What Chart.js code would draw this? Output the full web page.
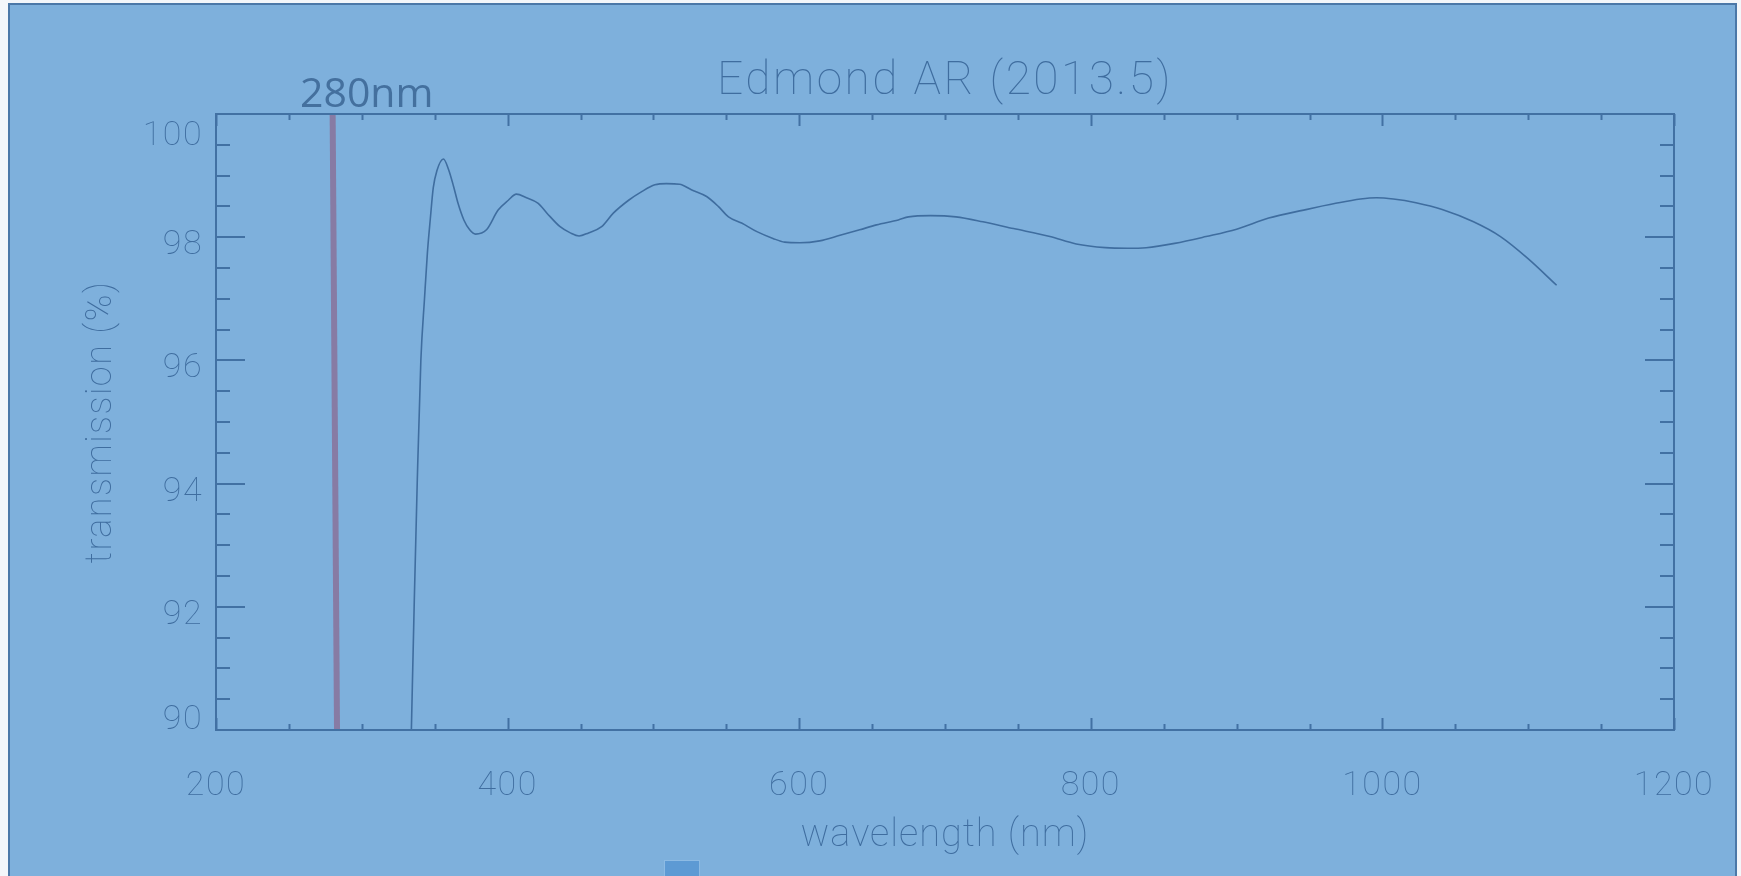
<!DOCTYPE html>
<html>
<head>
<meta charset="utf-8">
<title>Edmond AR (2013.5)</title>
<script src="https://cdn.jsdelivr.net/npm/chart.js@4.4.1/dist/chart.umd.min.js"></script>
<style>
  html, body { margin: 0; padding: 0; background: #f3f6fa; overflow: hidden; }
  #wrap { position: absolute; left: 0; top: 0; width: 1741px; height: 876px; }
</style>
</head>
<body>
<div id="wrap"><canvas id="c"></canvas></div>
<script>
// Measured transmission of the AR-coated window (wavelength in nm, transmission in %)
const wavelength = [
  334, 336, 338, 340.5, 343, 345, 347, 349, 351.5, 356,
  359.5, 363, 366, 370, 374, 378, 385.5, 393.5, 400.5, 406,
  413, 421, 427, 436, 443, 449, 455.5, 464.5, 472.5, 483,
  492, 501, 509, 518, 526, 536.5, 544.5, 551.5, 560.5, 571,
  582, 590, 600.5, 614, 628, 641.5, 653, 668, 675, 690,
  707.5, 726, 747, 772, 790, 810, 825, 838, 857.5, 879,
  900, 922, 946, 968, 985, 996, 1007.5, 1023, 1041, 1062.5,
  1081, 1099.5, 1119.5
];
const transmission = [
  90.0, 92.1, 94.0, 96.0, 97.0, 97.75, 98.3, 98.8, 99.08, 99.27,
  99.1, 98.82, 98.55, 98.28, 98.12, 98.05, 98.12, 98.44, 98.6, 98.7,
  98.64, 98.55, 98.39, 98.17, 98.07, 98.02, 98.07, 98.17, 98.39, 98.6,
  98.74, 98.85, 98.87, 98.86, 98.77, 98.66, 98.5, 98.33, 98.23, 98.09,
  97.98, 97.92, 97.91, 97.94, 98.03, 98.12, 98.2, 98.28, 98.33, 98.35,
  98.33, 98.25, 98.14, 98.01, 97.89, 97.83, 97.82, 97.83, 97.9, 98.01,
  98.13, 98.31, 98.44, 98.55, 98.62, 98.64, 98.62, 98.56, 98.45, 98.25,
  98.01, 97.66, 97.22
];

// 280 nm reference marker (top and bottom end of the drawn line)
const markerWavelength = [280, 283];
const markerTransmission = [100, 90];
const markerLabel = '280nm';

// Axes
const xRange = [200, 1200];
const yRange = [90, 100];
const xMajorTicks = [200, 400, 600, 800, 1000, 1200];
const xTickLabels = ['200', '400', '600', '800', '1000', '1200'];
const xMinorStep = 50;
const yMajorTicks = [90, 92, 94, 96, 98, 100];
const yTickLabels = ['90', '92', '94', '96', '98', '100'];
const yMinorStep = 0.5;

const chartTitle = 'Edmond AR (2013.5)';
const xAxisTitle = 'wavelength (nm)';
const yAxisTitle = 'transmission (%)';

const INK = '#4271a3';
const TEXT = '#3f6d9f';
const THIN = '100';

const spectrum = wavelength.map((w, i) => ({ x: w, y: transmission[i] }));
const marker = markerWavelength.map((w, i) => ({ x: w, y: markerTransmission[i] }));

function drawText(ctx, s, x, y, font, align, spacing, color) {
  ctx.font = font;
  ctx.textAlign = align;
  ctx.textBaseline = 'alphabetic';
  ctx.fillStyle = color;
  if ('letterSpacing' in ctx) ctx.letterSpacing = spacing + 'px';
  ctx.fillText(s, x, y);
  if ('letterSpacing' in ctx) ctx.letterSpacing = '0px';
}

// Page panel behind the plot
const panelPlugin = {
  id: 'panel',
  beforeDraw(chart) {
    const ctx = chart.ctx, W = chart.width, H = chart.height;
    ctx.save();
    ctx.fillStyle = '#f3f6fa';
    ctx.fillRect(0, 0, W, H);
    ctx.fillStyle = '#7eb0dc';
    ctx.fillRect(9, 4, 1727, H);
    ctx.strokeStyle = '#4b78a8';
    ctx.lineWidth = 2;
    ctx.beginPath();
    ctx.moveTo(9, H + 4); ctx.lineTo(9, 4); ctx.lineTo(1736, 4); ctx.lineTo(1736, H + 4);
    ctx.stroke();
    ctx.fillStyle = '#5d9ad4';
    ctx.fillRect(664, 860, 36, 20);
    ctx.strokeStyle = '#8dbbe4';
    ctx.lineWidth = 1;
    ctx.strokeRect(664.5, 860.5, 35, 20);
    ctx.restore();
  }
};

// Box frame with inward ticks on all four sides
const boxAxesPlugin = {
  id: 'boxAxes',
  afterDatasetsDraw(chart) {
    const ctx = chart.ctx, a = chart.chartArea;
    const xs = chart.scales.x, ys = chart.scales.y;
    ctx.save();
    ctx.strokeStyle = INK;
    ctx.lineWidth = 2;
    ctx.strokeRect(a.left, a.top, a.right - a.left, a.bottom - a.top);
    ctx.beginPath();
    // x ticks (bottom and top)
    for (let v = xRange[0]; v <= xRange[1] + 1e-9; v += xMinorStep) {
      const px = Math.round(xs.getPixelForValue(v)) + 0.5;
      const len = xMajorTicks.includes(v) ? 12 : 6;
      ctx.moveTo(px, a.bottom); ctx.lineTo(px, a.bottom - len);
      ctx.moveTo(px, a.top); ctx.lineTo(px, a.top + len);
    }
    ctx.stroke();
    ctx.beginPath();
    // y ticks (left and right)
    for (let v = yRange[0]; v <= yRange[1] + 1e-9; v += yMinorStep) {
      const py = Math.round(ys.getPixelForValue(v));
      const major = yMajorTicks.some(t => Math.abs(t - v) < 1e-6);
      const len = major ? 29 : 14;
      ctx.moveTo(a.left, py); ctx.lineTo(a.left + len, py);
      ctx.moveTo(a.right, py); ctx.lineTo(a.right - len, py);
    }
    ctx.stroke();
    ctx.restore();
  },
  afterDraw(chart) {
    const ctx = chart.ctx, a = chart.chartArea;
    const xs = chart.scales.x, ys = chart.scales.y;
    const cx = (a.left + a.right) / 2;
    ctx.save();
    drawText(ctx, chartTitle, cx, 94, THIN + ' 46px Roboto', 'center', 2.5, TEXT);
    xMajorTicks.forEach((v, i) => {
      drawText(ctx, xTickLabels[i], xs.getPixelForValue(v), 795, THIN + ' 34px Roboto', 'center', 1.5, TEXT);
    });
    drawText(ctx, xAxisTitle, cx, 846, THIN + ' 38px Roboto', 'center', 1, TEXT);
    yMajorTicks.forEach((v, i) => {
      const py = ys.getPixelForValue(v);
      let shift = 17;
      if (v === yRange[1]) shift = 31;
      if (v === yRange[0]) shift = -1;
      drawText(ctx, yTickLabels[i], a.left - 13, py + shift, THIN + ' 34px Roboto', 'right', 1.5, TEXT);
    });
    ctx.translate(111, (a.top + a.bottom) / 2);
    ctx.rotate(-Math.PI / 2);
    drawText(ctx, yAxisTitle, 0, 0, THIN + ' 36px Roboto', 'center', 1.5, TEXT);
    ctx.restore();
    ctx.save();
    drawText(ctx, markerLabel, 300, 107, '400 41px "Open Sans"', 'left', 0, '#44709e');
    ctx.restore();
  }
};

new Chart(document.getElementById('c'), {
  type: 'line',
  data: {
    datasets: [
      {
        label: 'transmission',
        data: spectrum,
        borderColor: '#3f6d9f',
        borderWidth: 1.6,
        pointRadius: 0,
        cubicInterpolationMode: 'monotone',
        fill: false
      },
      {
        label: markerLabel,
        data: marker,
        borderColor: '#877ba4',
        borderWidth: 6,
        borderCapStyle: 'butt',
        pointRadius: 0,
        tension: 0,
        fill: false
      }
    ]
  },
  options: {
    responsive: true,
    maintainAspectRatio: false,
    animation: false,
    devicePixelRatio: 1,
    layout: { padding: { left: 216, top: 114, right: 67, bottom: 146 } },
    plugins: { legend: { display: false }, tooltip: { enabled: false }, title: { display: false } },
    scales: {
      x: { type: 'linear', min: xRange[0], max: xRange[1], display: false },
      y: { type: 'linear', min: yRange[0], max: yRange[1], display: false }
    }
  },
  plugins: [panelPlugin, boxAxesPlugin]
});
</script>
</body>
</html>
